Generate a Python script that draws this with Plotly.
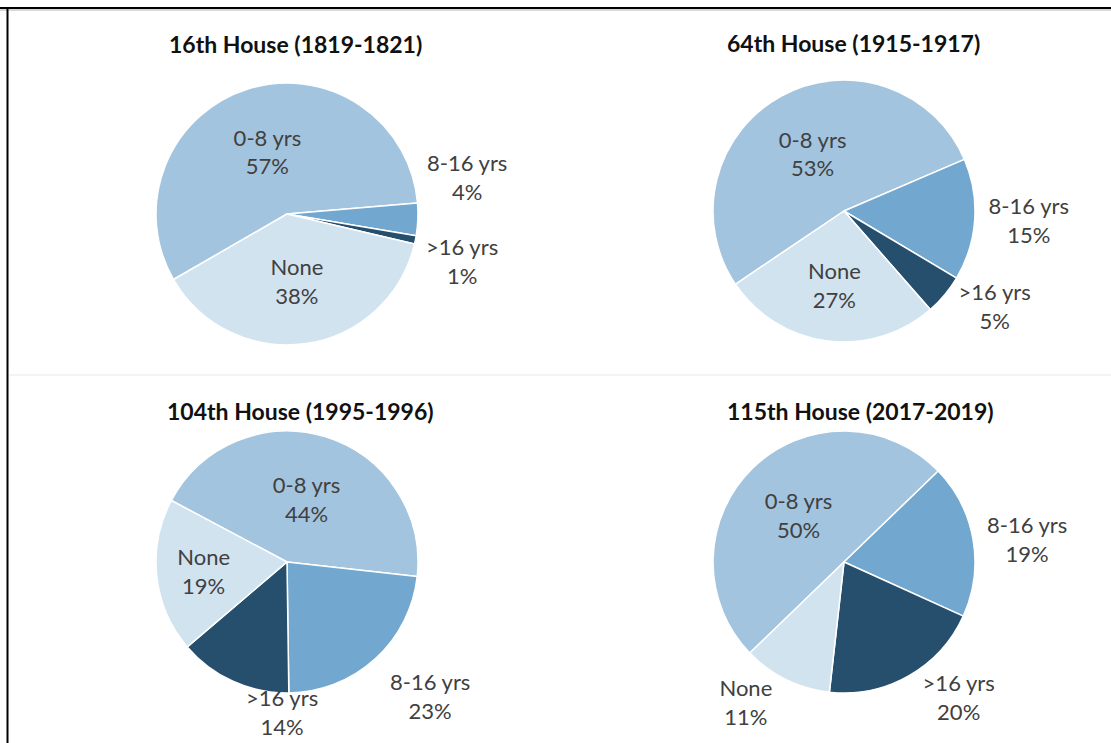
import plotly.graph_objects as go

# ---- data ----
categories = ["0-8 yrs", "8-16 yrs", ">16 yrs", "None"]
titles = ["16th House (1819-1821)", "64th House (1915-1917)",
          "104th House (1995-1996)", "115th House (2017-2019)"]
house16 = [57, 4, 1, 38]
house64 = [53, 15, 5, 27]
house104 = [44, 23, 14, 19]
house115 = [50, 19, 20, 11]
series = [house16, house64, house104, house115]

# ---- style / layout ----
W, H = 1111, 743
colors = ["#A3C4DE", "#72A7CF", "#264F6E", "#D2E3F0"]
rotations = [240, 236, 298, 226]
textpos = [
    ["inside", "none", "none", "inside"],
    ["inside", "outside", "outside", "inside"],
    ["inside", "none", "none", "inside"],
    ["inside", "outside", "outside", "outside"],
]
# best-fit label anchors (pixels) for labels placed by hand like Excel does
label_anchor = {(0, 1): (467, 177), (0, 2): (462, 261),
                (2, 1): (430, 696), (2, 2): (282, 712)}
centers = [(287, 214), (844, 211), (287, 562), (844, 562)]
R = 131
title_pos = [(295, 44), (853, 43), (300, 411), (860, 411)]
FONT = "Lato"
LABEL_SIZE = 22
LABEL_COLOR = "#404040"

fig = go.Figure()
for vals, (cx, cy), rot, tp in zip(series, centers, rotations, textpos):
    fig.add_trace(go.Pie(
        labels=categories, values=vals, sort=False, direction="clockwise",
        rotation=rot,
        marker=dict(colors=colors, line=dict(color="white", width=1.5)),
        texttemplate="%{label}<br>%{percent:.0%}",
        textposition=tp,
        insidetextorientation="horizontal",
        textfont=dict(family=FONT, size=LABEL_SIZE, color=LABEL_COLOR),
        showlegend=False,
        hoverinfo="label+percent",
        domain=dict(x=[(cx - R) / W, (cx + R) / W],
                    y=[1 - (cy + R) / H, 1 - (cy - R) / H]),
    ))

annotations = []
for t, (tx, ty) in zip(titles, title_pos):
    annotations.append(dict(
        text="<b>" + t + "</b>", x=tx / W, y=1 - ty / H, xref="paper", yref="paper",
        xanchor="center", yanchor="middle", showarrow=False,
        font=dict(family=FONT, size=23, color="#111111")))

for (pi, si), (lx, ly) in label_anchor.items():
    vals = series[pi]
    pct = round(100 * vals[si] / sum(vals))
    annotations.append(dict(
        text=f"{categories[si]}<br>{pct}%", x=lx / W, y=1 - ly / H,
        xref="paper", yref="paper", xanchor="center", yanchor="middle",
        showarrow=False, align="center",
        font=dict(family=FONT, size=LABEL_SIZE, color=LABEL_COLOR)))

shapes = [
    dict(type="line", xref="paper", yref="paper", x0=0, x1=1,
         y0=1 - 8 / H, y1=1 - 8 / H, line=dict(color="black", width=2)),
    dict(type="line", xref="paper", yref="paper", x0=0, x1=1,
         y0=1 - 10 / H, y1=1 - 10 / H, line=dict(color="#b0b0b0", width=1)),
    dict(type="line", xref="paper", yref="paper", x0=7.5 / W, x1=7.5 / W,
         y0=0, y1=1 - 8 / H, line=dict(color="black", width=2)),
    dict(type="line", xref="paper", yref="paper", x0=9 / W, x1=1,
         y0=1 - 375 / H, y1=1 - 375 / H, line=dict(color="#f3f3f3", width=2)),
]

fig.update_layout(
    width=W, height=H, margin=dict(l=0, r=0, t=0, b=0),
    paper_bgcolor="white", plot_bgcolor="white",
    annotations=annotations, shapes=shapes,
)
fig.write_html("out.html", config={"displayModeBar": False},
               post_script="document.body.style.margin='0px';"
                           "document.body.style.overflow='hidden';")
